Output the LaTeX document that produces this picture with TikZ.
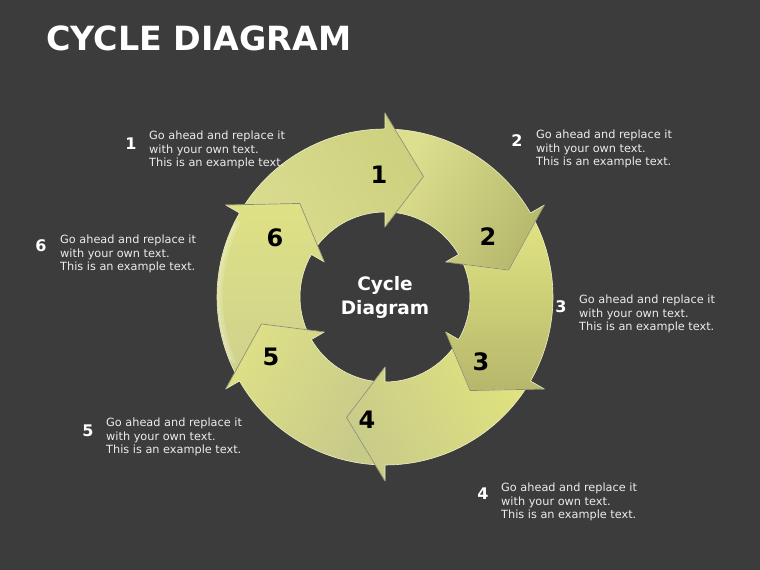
\documentclass[tikz,border=0pt]{standalone}
\usepackage{fontspec}
\setmainfont{DejaVu Sans}
\definecolor{bg}{HTML}{3C3C3C}
\definecolor{rim}{HTML}{EEF0C8}
\definecolor{txt}{HTML}{ECECEC}
\definecolor{hedge}{HTML}{2E2E1A}
\newcommand\cycarrow[3]{%
  \definecolor{cyA}{HTML}{#2}%
  \definecolor{cyZ}{HTML}{#3}%
  \pgfmathsetmacro\cyB{#1}%
  \pgfmathsetmacro\cyP{#1+60}%
  \pgfmathsetmacro\cyOa{\cyP-3.4}%
  \pgfmathsetmacro\cyIa{\cyP-7.4}%
  \pgfmathsetmacro\cyN{\cyP-17.7}%
  \pgfmathsetmacro\cyT{#1-17.7}%
  \pgfmathsetmacro\cyS{#1+30}%
  \shade[top color=cyA, bottom color=cyZ, shading angle=\cyS, draw=rim, line width=0.6pt, line join=round]
    (\cyOa:168) arc[start angle=\cyOa, end angle=\cyB, radius=168pt]
    -- (\cyB:184) -- (\cyT:126.5) -- (\cyB:70) -- (\cyB:85)
    arc[start angle=\cyB, end angle=\cyIa, radius=85pt]
    -- (\cyN:126.5) -- cycle;
}
\begin{document}
\begin{tikzpicture}[x=1pt,y=1pt,
  lbl/.style={text=txt, font=\fontsize{11.3}{13.5}\selectfont, align=left, anchor=west, inner sep=0pt},
  lnum/.style={text=white, font=\bfseries\fontsize{16}{16}\selectfont, inner sep=0pt},
  anum/.style={text=black, font=\bfseries\fontsize{24}{24}\selectfont, inner sep=0pt},
  headline/.style={draw=hedge, draw opacity=0.5, line width=0.7pt, line join=round}]
\fill[bg] (0,0) rectangle (760,570);
\useasboundingbox (0,0) rectangle (760,570);
\node[anchor=base west, inner sep=0pt, text=white, font=\bfseries\fontsize{33.3}{33.3}\selectfont] (title) at (46,519) {CYCLE DIAGRAM};
\begin{scope}[shift={(385,273)}]
  \cycarrow{90}{D9DC8E}{CDD07E}
  \cycarrow{30}{DCDF8E}{B6B86C}
  \cycarrow{-30}{E0E382}{B6B76B}
  \cycarrow{-90}{DFE27E}{C9CB8A}
  \cycarrow{-150}{C8CA8A}{DDE086}
  \cycarrow{150}{CFD28C}{DEE185}
  \draw[white, opacity=0.18, line width=4pt, line cap=round] (203:164.5) arc[start angle=203, end angle=153, radius=164.5pt];
  \draw[white, opacity=0.3, line width=1.5pt, line cap=round] (202:166.5) arc[start angle=202, end angle=154, radius=166.5pt];
  \foreach \b in {90,30,-30,-90,-150,150}{
    \pgfmathsetmacro\tb{\b-17.7}
    \draw[headline] (\b:184) -- (\tb:126.5) -- (\b:70);
  }
\end{scope}
\node[anum] (a1) at (379,395) {1};
\node[anum] (a2) at (488,333) {2};
\node[anum] (a3) at (481,208) {3};
\node[anum] (a4) at (367,150) {4};
\node[anum] (a5) at (271,213) {5};
\node[anum] (a6) at (275,332) {6};
\node[text=white, font=\bfseries\fontsize{18.5}{24}\selectfont, align=center, inner sep=0pt] (ctr) at (385,273) {Cycle\\Diagram};
\node[lnum] (n1) at (131,426) {1};
\node[lbl] (t1) at (149,420) {Go ahead and replace it\\with your own text.\\This is an example text.};
\node[lnum] (n2) at (517,429) {2};
\node[lbl] (t2) at (536,421) {Go ahead and replace it\\with your own text.\\This is an example text.};
\node[lnum] (n3) at (561,263) {3};
\node[lbl] (t3) at (579,256) {Go ahead and replace it\\with your own text.\\This is an example text.};
\node[lnum] (n4) at (483,76) {4};
\node[lbl] (t4) at (501,68) {Go ahead and replace it\\with your own text.\\This is an example text.};
\node[lnum] (n5) at (88,139) {5};
\node[lbl] (t5) at (106,133) {Go ahead and replace it\\with your own text.\\This is an example text.};
\node[lnum] (n6) at (41,324) {6};
\node[lbl] (t6) at (60,316) {Go ahead and replace it\\with your own text.\\This is an example text.};
\end{tikzpicture}
\end{document}
